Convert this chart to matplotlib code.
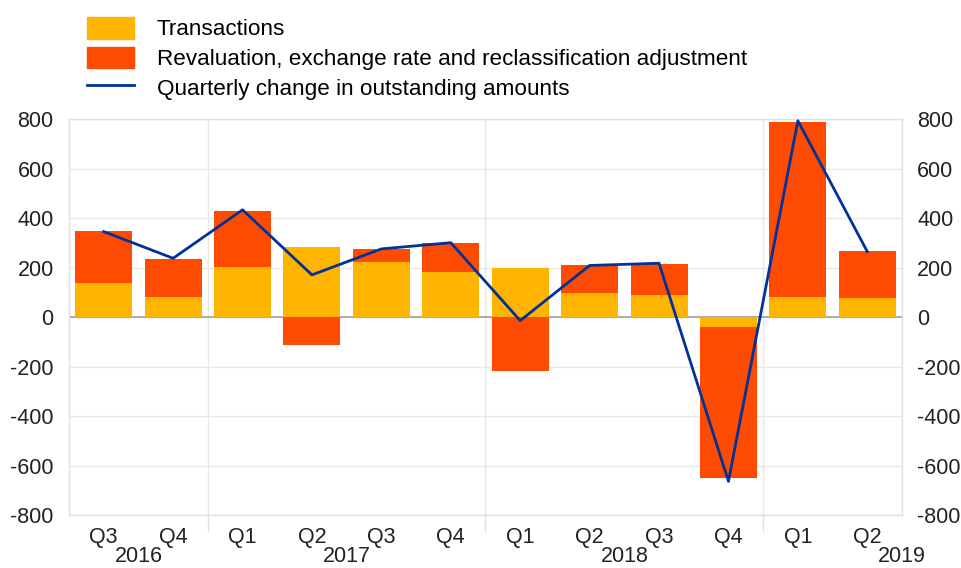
import matplotlib
matplotlib.use("Agg")
import matplotlib.pyplot as plt
from matplotlib.patches import Patch
from matplotlib.lines import Line2D
import numpy as np

plt.rcParams['font.family'] = ['Liberation Sans', 'DejaVu Sans']

quarters = ["Q3", "Q4", "Q1", "Q2", "Q3", "Q4", "Q1", "Q2", "Q3", "Q4", "Q1", "Q2"]
years = ["2016", "2017", "2018", "2019"]
transactions = [140, 83, 204, 285, 222, 184, 198, 97, 90, -40, 83, 79]
totals_bar = [347, 237, 430, -112, 275, 301, -217, 209, 214, -651, 788, 267]
revaluation = [t - tr if t * tr > 0 and abs(t) > abs(tr) else t
               for t, tr in zip(totals_bar, transactions)]
quarterly_change = [346, 238, 434, 171, 276, 301, -14, 209, 218, -664, 794, 265]

c_trans = "#FFB400"
c_reval = "#FF4B00"
c_line = "#003299"

fig = plt.figure(figsize=(9.62, 5.68), dpi=100)
ax = fig.add_axes([69/962, 1 - 515/568, (902-69)/962, (515-119.3)/568])

x = np.arange(len(quarters))
w = 0.82
trans = np.array(transactions)
reval = np.array(revaluation)
bottom_reval = np.where(np.sign(reval) == np.sign(trans), trans, 0)
ax.bar(x, trans, width=w, color=c_trans, zorder=2)
ax.bar(x, reval, width=w, bottom=bottom_reval, color=c_reval, zorder=2)
ax.plot(x, quarterly_change, color=c_line, lw=2.0, zorder=3)

ax.set_xlim(-0.5, len(quarters) - 0.5)
ax.set_ylim(-800, 800)
yt = np.arange(-800, 801, 200)
ax.set_yticks(yt)
ax.set_yticklabels([str(v) for v in yt])
ax.tick_params(axis='y', length=0, labelsize=15.5, pad=11, colors="#222222",
               labelright=True, right=False)
ax.grid(axis='y', color="#e8e8e8", lw=1, zorder=0)
ax.axhline(0, color="#a0a0a0", lw=1.2, zorder=1)
for s in ax.spines.values():
    s.set_color("#e0e0e0")
    s.set_linewidth(1)
ax.set_axisbelow(True)

for sep in [1.5, 5.5, 9.5]:
    ax.plot([sep, sep], [-800, 800], color="#e8e8e8", lw=1, zorder=0)
    ax.plot([sep, sep], [0, -0.04], transform=ax.get_xaxis_transform(),
            color="#e0e0e0", lw=1, clip_on=False)

ax.set_xticks(x)
ax.set_xticklabels(quarters)
ax.tick_params(axis='x', length=0, labelsize=15.5, pad=9, colors="#222222")

year_pos = [0.5, 3.5, 7.5, 11.5]
for yp, yl in zip(year_pos, years):
    ax.text(yp, -0.105, yl, transform=ax.get_xaxis_transform(), ha='center',
            va='center', fontsize=15.5, color="#222222")

handles = [Patch(color=c_trans), Patch(color=c_reval),
           Line2D([0], [0], color=c_line, lw=2.0)]
labels = ["Transactions",
          "Revaluation, exchange rate and reclassification adjustment",
          "Quarterly change in outstanding amounts"]
fig.legend(handles, labels, loc='upper left', bbox_to_anchor=(78/962, 1 - 8/568),
           frameon=False, fontsize=16.2, handlelength=2.1, handleheight=1.1,
           labelspacing=0.27, handletextpad=1.0, borderaxespad=0)

fig.savefig("out.png", dpi=100)
